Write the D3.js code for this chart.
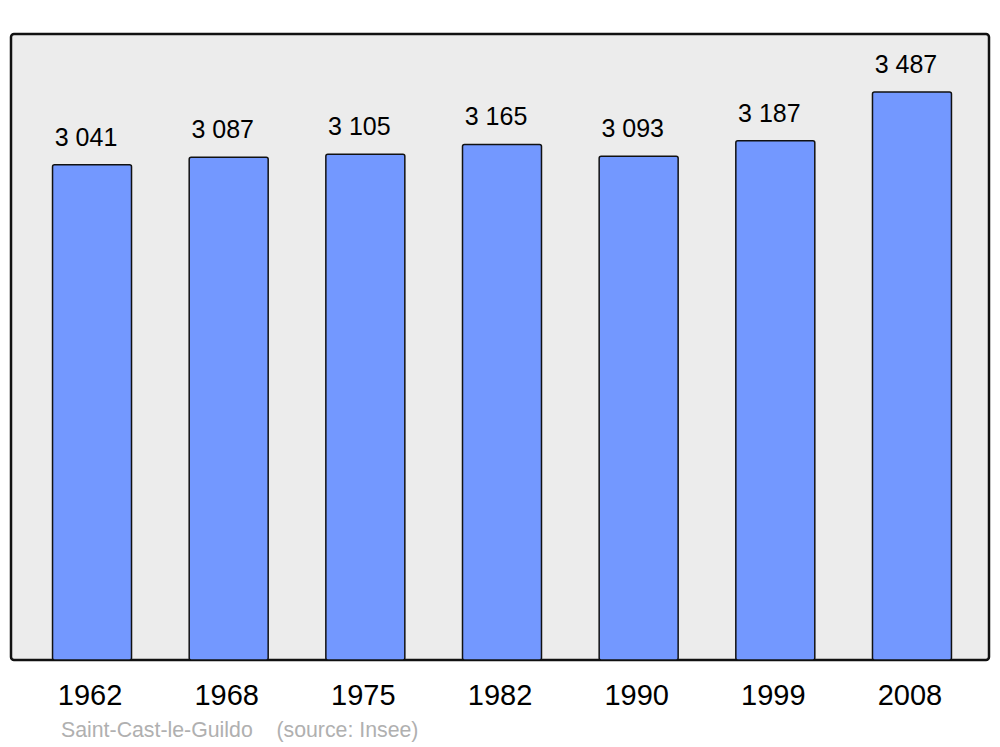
<!DOCTYPE html>
<html>
<head>
<meta charset="utf-8">
<script src="https://cdn.jsdelivr.net/npm/d3@7"></script>
<style>
  body { margin: 0; background: #fff; }
  svg { display: block; font-family: "Liberation Sans", Arial, sans-serif; }
</style>
</head>
<body>
<svg id="chart" width="1000" height="747"></svg>
<script>
// population by census year
var years = ["1962", "1968", "1975", "1982", "1990", "1999", "2008"];
var population = [3041, 3087, 3105, 3165, 3093, 3187, 3487];
var valueLabels = ["3 041", "3 087", "3 105", "3 165", "3 093", "3 187", "3 487"];

var data = years.map(function(d, i) {
    return { year: d, value: population[i], label: valueLabels[i] };
});

var svg = d3.select("#chart");

var x = d3.scaleBand()
    .domain(years)
    .range([23.7, 980.3])
    .paddingInner(0.422)
    .paddingOuter(0.211);

var y = d3.scaleLinear()
    .domain([0, 3487])
    .range([660, 92]);

// grey panel
svg.append("rect")
    .attr("x", 11)
    .attr("y", 34)
    .attr("width", 978)
    .attr("height", 626)
    .attr("rx", 3)
    .attr("fill", "#ececec")
    .attr("stroke", "#111")
    .attr("stroke-width", 2.5);

svg.selectAll(".bar")
    .data(data)
    .enter().append("rect")
    .attr("class", "bar")
    .attr("x", function(d) { return x(d.year); })
    .attr("y", function(d) { return y(d.value); })
    .attr("width", x.bandwidth())
    .attr("height", function(d) { return y(0) - y(d.value); })
    .attr("rx", 2)
    .attr("fill", "#7398ff")
    .attr("stroke", "#111")
    .attr("stroke-width", 1.5);

// values over the bars
svg.selectAll(".val")
    .data(data)
    .enter().append("text")
    .attr("class", "val")
    .attr("x", function(d) { return x(d.year) + x.bandwidth() / 2 - 6; })
    .attr("y", function(d) { return y(d.value) - 19; })
    .attr("text-anchor", "middle")
    .attr("font-size", 25)
    .attr("fill", "#000")
    .text(function(d) { return d.label; });

// year axis, no line or ticks
var xAxis = svg.append("g")
    .attr("transform", "translate(-2,660)")
    .call(d3.axisBottom(x).tickSize(0).tickPadding(24))
    .call(g => g.select(".domain").remove());

xAxis.selectAll("text")
    .attr("font-size", 29)
    .attr("font-family", "Liberation Sans, Arial, sans-serif")
    .attr("fill", "#000");

svg.append("text")
    .attr("x", 61)
    .attr("y", 737)
    .attr("font-size", 21.3)
    .attr("fill", "#b0b0b0")
    .attr("xml:space", "preserve")
    .text("Saint-Cast-le-Guildo    (source: Insee)");
</script>
</body>
</html>
